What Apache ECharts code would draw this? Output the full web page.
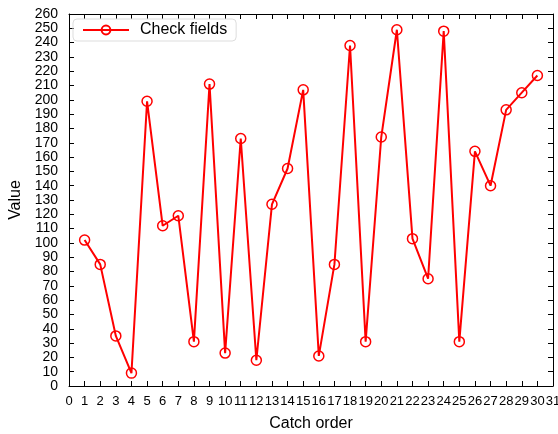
<!DOCTYPE html>
<html>
<head>
<meta charset="utf-8">
<title>Check fields</title>
<script src="https://cdn.jsdelivr.net/npm/echarts@6/dist/echarts.min.js"></script>
<style>
  html, body { margin: 0; padding: 0; background: #fff; }
  #chart { width: 558px; height: 434px; }
</style>
</head>
<body>
<div id="chart"></div>
<script>
const catchOrder = [1, 2, 3, 4, 5, 6, 7, 8, 9, 10, 11, 12, 13, 14, 15,
  16, 17, 18, 19, 20, 21, 22, 23, 24, 25, 26, 27, 28, 29, 30]
const checkFields = [102, 85, 35, 9, 199, 112, 119, 31, 211, 23, 173, 18, 127, 152, 207,
  21, 85, 238, 31, 174, 249, 103, 75, 248, 31, 164, 140, 193, 205, 217]

const xRange = [0, 31]
const yRange = [0, 260]

const font = 'Liberation Sans, Arial, sans-serif'
const axisColor = '#000'

const chart = echarts.init(document.getElementById('chart'), null, { renderer: 'canvas' })

// shared look for all four frame axes, ticks pointing in
const frameAxis = (extra) => Object.assign({
  type: 'value',
  splitLine: { show: false },
  axisLine: { show: true, onZero: false, lineStyle: { color: axisColor, width: 1 } },
  axisTick: { show: true, inside: true, length: 5, lineStyle: { color: axisColor } }
}, extra)

chart.setOption({
  animation: false,
  backgroundColor: '#fff',
  grid: { left: 69, right: 5, top: 14, bottom: 48, containLabel: false, outerBoundsMode: 'none' },
  legend: {
    left: 73,
    top: 19,
    data: ['Check fields'],
    itemWidth: 46,
    itemHeight: 11,
    itemGap: 10,
    padding: [3, 9, 3, 9],
    borderColor: '#dddddd',
    borderWidth: 1,
    borderRadius: 4,
    textStyle: { fontFamily: font, fontSize: 16, color: '#000', padding: [0, 0, 0, 6] }
  },
  xAxis: [
    frameAxis({
      position: 'bottom',
      min: xRange[0], max: xRange[1], interval: 1,
      name: 'Catch order',
      nameLocation: 'middle',
      nameGap: 30,
      nameTextStyle: { fontFamily: font, fontSize: 16, color: '#000' },
      axisLabel: { margin: 9, fontFamily: font, fontSize: 13, color: '#000' }
    }),
    frameAxis({
      position: 'top',
      min: xRange[0], max: xRange[1], interval: 1,
      axisLabel: { show: false }
    })
  ],
  yAxis: [
    frameAxis({
      position: 'left',
      min: yRange[0], max: yRange[1], interval: 10,
      name: 'Value',
      nameLocation: 'middle',
      nameGap: 44,
      nameTextStyle: { fontFamily: font, fontSize: 16, color: '#000' },
      axisLabel: { margin: 11, fontFamily: font, fontSize: 14, color: '#000' }
    }),
    frameAxis({
      position: 'right',
      min: yRange[0], max: yRange[1], interval: 10,
      axisLabel: { show: false }
    })
  ],
  series: [
    {
      name: 'Check fields',
      type: 'line',
      xAxisIndex: 0,
      yAxisIndex: 0,
      data: catchOrder.map((x, i) => [x, checkFields[i]]),
      symbol: 'circle',
      symbolSize: 10,
      showAllSymbol: true,
      lineStyle: { color: '#ff0000', width: 2 },
      itemStyle: { color: 'rgba(255,255,255,0)', borderColor: '#ff0000', borderWidth: 1.5 }
    }
  ]
})
</script>
</body>
</html>
